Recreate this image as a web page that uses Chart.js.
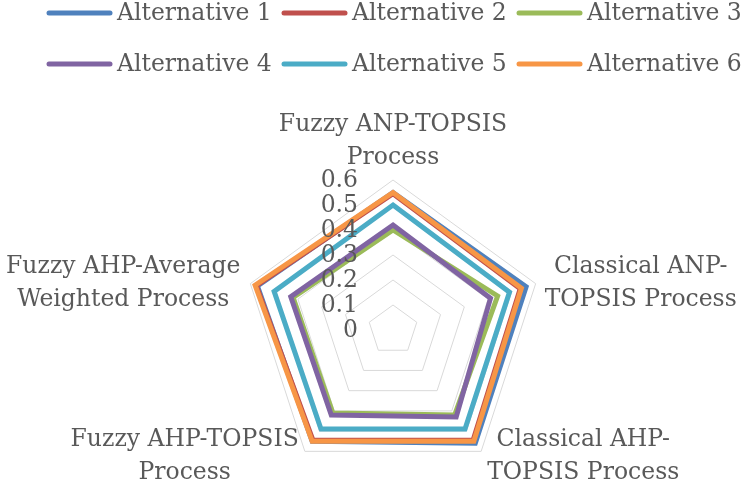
<!DOCTYPE html>
<html>
<head>
<meta charset="utf-8">
<script src="https://cdn.jsdelivr.net/npm/chart.js@4.4.1/dist/chart.umd.min.js"></script>
<style>
    html, body { margin: 0; padding: 0; background: #fff; }
    #wrap { width: 750px; height: 488px; position: relative; }
</style>
</head>
<body>
<div id="wrap"><canvas id="chart" width="750" height="488"></canvas></div>
<script>
// Criteria (radar axes), two-line labels as in the original
const criteria = [
    ['Fuzzy ANP-TOPSIS', 'Process'],
    ['Classical ANP-', 'TOPSIS Process'],
    ['Classical AHP-', 'TOPSIS Process'],
    ['Fuzzy AHP-TOPSIS', 'Process'],
    ['Fuzzy AHP-Average', 'Weighted Process']
];

const seriesNames = ['Alternative 1', 'Alternative 2', 'Alternative 3', 'Alternative 4', 'Alternative 5', 'Alternative 6'];

// Values
const alt1 = [0.55, 0.56, 0.56, 0.55, 0.57];
const alt2 = [0.545, 0.535, 0.545, 0.545, 0.575];
const alt3 = [0.40, 0.44, 0.42, 0.41, 0.42];
const alt4 = [0.42, 0.41, 0.43, 0.42, 0.43];
const alt5 = [0.50, 0.49, 0.49, 0.49, 0.50];
const alt6 = [0.55, 0.54, 0.55, 0.55, 0.58];

const tickLabels = ['0', '0.1', '0.2', '0.3', '0.4', '0.5', '0.6'];

// Office 2007 palette
const colors = ['#4F81BD', '#C0504D', '#9BBB59', '#8064A2', '#4BACC6', '#F79646'];

const FONT = '23.5px "DejaVu Serif"';
const TEXT_COLOR = '#595959';

const allSeries = [alt1, alt2, alt3, alt4, alt5, alt6];

// Draw tick labels left of the vertical axis (Excel style)
const tickPlugin = {
    id: 'excelTicks',
    afterDatasetsDraw(chart) {
        const scale = chart.scales.r;
        const ctx = chart.ctx;
        ctx.save();
        ctx.font = FONT;
        ctx.fillStyle = TEXT_COLOR;
        ctx.textAlign = 'right';
        ctx.textBaseline = 'middle';
        tickLabels.forEach(t => {
            const p = scale.getPointPositionForValue(0, parseFloat(t));
            ctx.fillText(t, scale.xCenter - 35, p.y + 1);
        });
        ctx.restore();
    }
};

// Axis labels and legend
const labelPlugin = {
    id: 'excelLabels',
    afterDraw(chart) {
        const scale = chart.scales.r;
        const ctx = chart.ctx;
        const lineH = 33;
        ctx.save();
        ctx.font = FONT;
        ctx.fillStyle = TEXT_COLOR;
        ctx.textAlign = 'center';
        ctx.textBaseline = 'middle';

        criteria.forEach((lines, i) => {
            const p = scale.getPointPositionForValue(i, 0.6);
            const w = Math.max(...lines.map(l => ctx.measureText(l).width));
            let cx, y0;
            if (i === 0) {
                cx = p.x;
                y0 = p.y - 22 - lineH;
            } else if (i === 1) {
                cx = p.x + 9 + w / 2;
                y0 = p.y - lineH / 2;
            } else if (i === 2) {
                cx = p.x + 6 + w / 2;
                y0 = p.y - 11;
            } else if (i === 3) {
                cx = p.x - 6 - w / 2;
                y0 = p.y - 11;
            } else {
                cx = p.x - 10 - w / 2;
                y0 = p.y - lineH / 2;
            }
            lines.forEach((l, k) => ctx.fillText(l, cx, y0 + k * lineH));
        });

        // legend, 2 rows x 3
        ctx.textAlign = 'left';
        ctx.lineCap = 'round';
        ctx.lineWidth = 5;
        seriesNames.forEach((name, i) => {
            const row = Math.floor(i / 3);
            const col = i % 3;
            const x = 49 + col * 235;
            const y = 13 + row * 51;
            ctx.strokeStyle = colors[i];
            ctx.beginPath();
            ctx.moveTo(x, y);
            ctx.lineTo(x + 61, y);
            ctx.stroke();
            ctx.fillText(name, x + 68, y + 1);
        });
        ctx.restore();
    }
};

const datasets = allSeries.map((values, i) => ({
    label: seriesNames[i],
    data: values,
    borderColor: colors[i],
    backgroundColor: colors[i],
    borderWidth: 5,
    borderJoinStyle: 'miter',
    pointRadius: 0,
    fill: false,
    order: allSeries.length - i
}));

new Chart(document.getElementById('chart'), {
    type: 'radar',
    data: {
        labels: criteria.map(c => c.join(' ')),
        datasets: datasets
    },
    options: {
        responsive: false,
        animation: false,
        layout: { padding: { left: 243, right: 207, top: 180, bottom: 8 } },
        plugins: {
            legend: { display: false },
            tooltip: { enabled: false }
        },
        elements: { line: { tension: 0 } },
        scales: {
            r: {
                min: 0,
                max: 0.6,
                ticks: { display: false, stepSize: 0.1 },
                grid: { color: '#D9D9D9', lineWidth: 1 },
                angleLines: { display: false },
                pointLabels: { display: false }
            }
        }
    },
    plugins: [tickPlugin, labelPlugin]
});
</script>
</body>
</html>
